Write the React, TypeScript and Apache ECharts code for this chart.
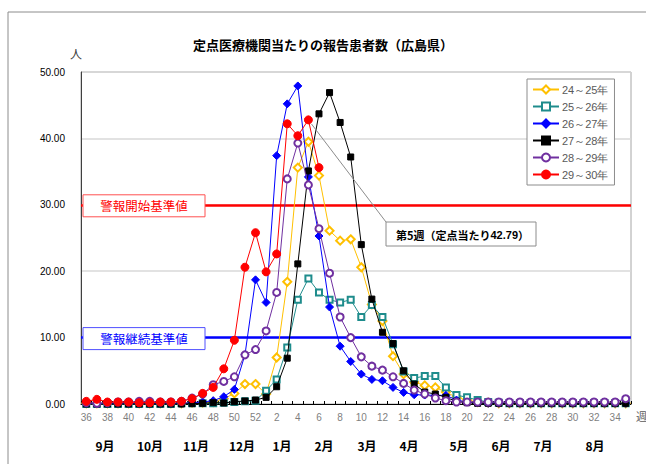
import React, { useEffect, useRef } from 'react';
import * as echarts from 'echarts';

const weeks: string[] = [
  '36','37','38','39','40','41','42','43','44','45','46','47','48','49','50','51','52',
  '1','2','3','4','5','6','7','8','9','10','11','12','13','14','15','16','17','18','19','20',
  '21','22','23','24','25','26','27','28','29','30','31','32','33','34','35',
];

const s2425: number[] = [
  0.1,0.1,0.1,0.1,0.1,0.1,0.1,0.1,0.1,0.1,0.2,0.2,
  0.3,0.8,1.6,3.0,3.0,
  1.5,7.0,18.4,35.6,39.5,34.4,26.1,24.6,24.8,20.6,15.0,12.5,7.2,4.5,3.3,2.8,2.5,1.8,1.0,0.6,0.3,0.2,
  0.1,0.1,0.1,0.1,0.1,0.1,0.1,0.1,0.1,0.1,0.1,0.1,0.1,
];
const s2526: number[] = [
  0.0,0.0,0.0,0.0,0.0,0.0,0.0,0.0,0.0,0.1,0.1,0.1,
  0.1,0.2,0.3,0.4,0.5,
  2.0,3.7,8.5,15.7,18.9,16.8,15.7,15.3,15.7,13.1,14.9,13.1,9.0,4.9,3.9,4.2,4.2,2.5,1.35,1.0,0.6,0.3,
  0.2,0.1,0.1,0.1,0.1,0.1,0.1,0.1,0.1,0.1,0.1,0.1,0.1,
];
const s2627: number[] = [
  0.1,0.1,0.1,0.1,0.1,0.1,0.1,0.1,0.1,0.1,0.2,0.3,
  0.5,1.1,2.2,7.4,18.7,
  15.3,37.4,45.2,47.9,34.2,25.3,14.6,8.7,6.4,4.5,3.7,3.5,2.5,1.75,1.4,1.35,1.3,1.3,0.6,0.3,0.2,0.1,
  0.1,0.1,0.1,0.1,0.1,0.1,0.1,0.1,0.1,0.1,0.1,0.1,0.1,
];
const s2728: number[] = [
  0.0,0.0,0.0,0.0,0.0,0.0,0.0,0.0,0.0,0.0,0.05,0.1,
  0.2,0.15,0.35,0.45,0.6,
  1.0,2.6,6.9,21.1,35.1,43.7,46.9,42.4,37.2,24.0,15.8,10.8,9.1,5.0,3.0,1.8,1.5,1.0,0.4,0.2,0.1,0.1,
  0.1,0.1,0.1,0.1,0.1,0.1,0.1,0.1,0.1,0.1,0.1,0.1,0.1,
];
const s2829: number[] = [
  0.2,0.1,0.2,0.3,0.3,0.4,0.4,0.3,0.3,0.4,0.9,1.5,
  2.9,3.4,4.1,7.4,8.2,
  11.0,16.8,33.9,39.3,33.0,26.4,19.7,13.1,10.0,7.1,5.7,5.1,4.1,3.1,2.1,1.5,0.9,0.5,0.3,0.3,0.3,0.3,
  0.3,0.3,0.3,0.3,0.3,0.3,0.3,0.3,0.3,0.3,0.3,0.3,0.8,
];
const s2930: number[] = [
  0.4,0.7,0.3,0.3,0.3,0.2,0.2,0.3,0.3,0.4,0.8,1.6,
  2.5,5.3,9.6,20.6,25.8,
  19.9,22.6,42.2,40.4,42.79,35.6,
];

const seasonNames: string[] = ['24～25年', '25～26年', '26～27年', '27～28年', '28～29年', '29～30年'];
const months: string[] = ['9月','10月','11月','12月','1月','2月','3月','4月','5月','6月','7月','8月'];
const monthX: number[] = [105,150,196,242,282,324,367,409,459,501,543,595];

const alertStart = 30;
const alertContinue = 10;
const peakWeekIndex = 21;
const peakValue = 42.79;

const JP = '"Noto Sans CJK JP", sans-serif';
const NUM = '"Liberation Sans", Arial, sans-serif';

export default function App() {
  const ref = useRef<HTMLDivElement>(null);
  useEffect(() => {
    const chart = echarts.init(ref.current!, null, { renderer: 'svg' });
    const mk = (name: string, data: number[], color: string, symbol: string, size: number, z: number) => ({
      name,
      type: 'line',
      data,
      symbol,
      symbolSize: size,
      showAllSymbol: true,
      z,
      lineStyle: { color, width: 1 },
      itemStyle: { color, borderColor: color, borderWidth: 1 },
      emphasis: { disabled: true },
    });
    const series: any[] = [
      mk(seasonNames[0], s2425, '#FFC000', 'emptyDiamond', 8, 2),
      mk(seasonNames[1], s2526, '#1E8C8C', 'emptyRect', 6, 3),
      mk(seasonNames[2], s2627, '#0000FF', 'diamond', 8, 4),
      mk(seasonNames[3], s2728, '#000000', 'rect', 6, 5),
      mk(seasonNames[4], s2829, '#7030A0', 'emptyCircle', 7, 6),
      mk(seasonNames[5], s2930, '#FF0000', 'circle', 8, 7),
    ];
    series[0].markLine = {
      silent: true,
      symbol: 'none',
      label: { show: false },
      z: 1,
      data: [
        { yAxis: alertStart, lineStyle: { color: '#FF0000', width: 2.5, type: 'solid' } },
        { yAxis: alertContinue, lineStyle: { color: '#0000FF', width: 2.5, type: 'solid' } },
      ],
    };
    chart.setOption({
      animation: false,
      backgroundColor: '#ffffff',
      title: {
        text: '定点医療機関当たりの報告患者数（広島県）',
        left: 'center',
        top: 33,
        textStyle: { fontSize: 13, fontWeight: 'bold', fontFamily: JP, color: '#000' },
      },
      legend: {
        orient: 'vertical',
        left: 527,
        top: 79,
        padding: [5, 6, 5, 5],
        itemGap: 6,
        itemWidth: 26,
        itemHeight: 10,
        backgroundColor: '#fff',
        borderColor: '#8c8c8c',
        borderWidth: 1,
        textStyle: { fontSize: 11, fontFamily: NUM, color: '#595959', padding: [0, 0, 0, -2] },
        data: seasonNames,
      },
      grid: {
        left: 81, right: 15, top: 72, bottom: 60,
        show: true, borderColor: '#a6a6a6', borderWidth: 1, backgroundColor: 'transparent',
      },
      xAxis: {
        type: 'category',
        data: weeks,
        boundaryGap: true,
        axisLine: { lineStyle: { color: '#000', width: 1 } },
        axisTick: { show: true, interval: 0, inside: true, length: 3, lineStyle: { color: '#000' } },
        axisLabel: { interval: 1, fontSize: 10, fontFamily: NUM, color: '#7f7f7f', margin: 8 },
        splitLine: { show: false },
      },
      yAxis: {
        type: 'value',
        min: 0, max: 50, interval: 10,
        axisLine: { show: true, lineStyle: { color: '#404040', width: 1 } },
        axisTick: { show: false },
        axisLabel: { fontSize: 10, fontFamily: NUM, color: '#000', margin: 16, formatter: (v: number) => v.toFixed(2) },
        splitLine: { show: true, lineStyle: { color: '#d9d9d9', width: 1.5 } },
      },
      series,
    });

    const yStart = chart.convertToPixel({ yAxisIndex: 0 }, alertStart) as number;
    const yCont = chart.convertToPixel({ yAxisIndex: 0 }, alertContinue) as number;
    const pk = chart.convertToPixel({ xAxisIndex: 0, yAxisIndex: 0 }, [peakWeekIndex, peakValue]) as number[];

    const boxX = 386, boxY = 222, boxW = 150, boxH = 24;
    const graphic: any[] = [
      { type: 'rect', z: 0, silent: true, shape: { x: 8, y: 12, width: 700, height: 500 }, style: { fill: 'none', stroke: '#8c8c8c', lineWidth: 1 } },
      { type: 'text', left: 70, top: 47, style: { text: '人', fontSize: 12, fontFamily: JP, fill: '#404040' } },
      { type: 'text', x: 636, y: 410, style: { text: '週', fontSize: 11, fontFamily: JP, fill: '#595959' } },
      { type: 'rect', z: 100, shape: { x: 83, y: yStart - 10, width: 122, height: 22 }, style: { fill: '#fff', stroke: '#ff5050', lineWidth: 1 } },
      { type: 'text', z: 101, x: 144, y: yStart + 1, style: { text: '警報開始基準値', fontSize: 12.5, fontFamily: JP, fill: '#ff0000', align: 'center', verticalAlign: 'middle' } },
      { type: 'rect', z: 100, shape: { x: 83, y: yCont - 10, width: 122, height: 22 }, style: { fill: '#fff', stroke: '#5050ff', lineWidth: 1 } },
      { type: 'text', z: 101, x: 144, y: yCont + 1, style: { text: '警報継続基準値', fontSize: 12.5, fontFamily: JP, fill: '#0000ff', align: 'center', verticalAlign: 'middle' } },
      { type: 'line', z: 99, shape: { x1: pk[0] + 3, y1: pk[1] + 4, x2: boxX, y2: boxY }, style: { stroke: '#8c8c8c', lineWidth: 1 } },
      { type: 'rect', z: 100, shape: { x: boxX, y: boxY, width: boxW, height: boxH }, style: { fill: '#fff', stroke: '#8c8c8c', lineWidth: 1 } },
      {
        type: 'text', z: 101, x: boxX + 10, y: boxY + boxH / 2 + 1,
        style: {
          text: '{a|第5週（定点当たり}{b|' + peakValue.toFixed(2) + '}{a|）}',
          verticalAlign: 'middle',
          rich: {
            a: { fontSize: 11, fontFamily: JP, fill: '#000', fontWeight: 'bold' },
            b: { fontSize: 11, fontFamily: NUM, fill: '#000', fontWeight: 'bold' },
          },
        },
      },
    ];
    months.forEach((m, i) => {
      graphic.push({
        type: 'text', x: monthX[i], y: 445,
        style: { text: m, fontSize: 12, fontWeight: 'bold', fontFamily: JP, fill: '#000', align: 'center', verticalAlign: 'middle' },
      });
    });
    chart.setOption({ graphic });
    return () => chart.dispose();
  }, []);
  return <div ref={ref} style={{ position: 'absolute', left: 0, top: 0, width: 646, height: 464 }} />;
}
